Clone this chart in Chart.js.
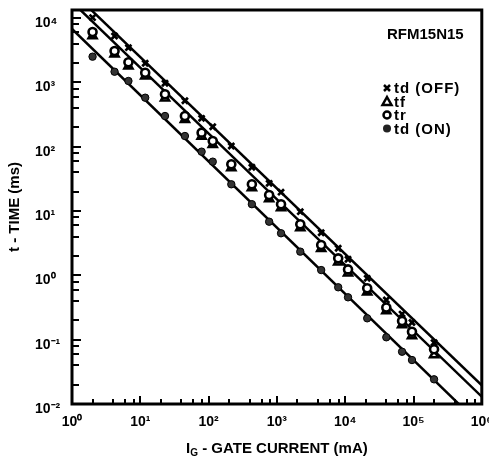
<!DOCTYPE html>
<html><head><meta charset="utf-8">
<script src="https://cdn.jsdelivr.net/npm/chart.js@4.4.1/dist/chart.umd.min.js"></script>
<style>html,body{margin:0;padding:0;background:#fff}</style>
</head><body>
<canvas id="c" width="489" height="457"></canvas>
<script>
// ---- data (x: gate current mA, y: time ms) ----
const gateCurrent = [2, 4.2, 6.7, 11.8, 23, 45, 79, 115, 215, 430, 770, 1150, 2200, 4450, 7900, 11000, 21000, 40000, 68000, 95000, 200000];
const tdOff = [10200, 5290, 3480, 1990, 972, 519, 277, 205, 103, 48, 27, 19.7, 9.8, 4.61, 2.64, 1.78, 0.90, 0.414, 0.25, 0.185, 0.090];
const tf    = [5300, 2750, 1800, 1250, 570, 265, 145, 108, 47, 23, 15.5, 11.2, 5.5, 2.6, 1.6, 1.08, 0.55, 0.28, 0.17, 0.115, 0.058];
const tr    = [6100, 3090, 2060, 1420, 655, 301, 166, 123, 53.4, 26.1, 17.8, 12.8, 6.23, 2.97, 1.84, 1.24, 0.63, 0.317, 0.195, 0.133, 0.071];
const tdOn  = [2520, 1470, 1055, 580, 301, 147, 84, 58.7, 26.1, 12.8, 6.84, 4.52, 2.34, 1.21, 0.653, 0.456, 0.215, 0.109, 0.065, 0.0483, 0.0242];
// fitted straight lines (end points)
const fitX = [1, 1000000];
const tdOffFit = [26000, 0.0195];
const trFit = [17900, 0.013];
const tdOnFit = [6800, 0.0045];
// axes
const xTickValues = [1,2,4,6,8,10,20,40,60,80,100,200,400,600,800,1e3,2e3,4e3,6e3,8e3,1e4,2e4,4e4,6e4,8e4,1e5,2e5,4e5,6e5,8e5,1e6];
const yTickValues = [0.01,0.02,0.04,0.06,0.08,0.1,0.2,0.4,0.6,0.8,1,2,4,6,8,10,20,40,60,80,100,200,400,600,800,1e3,2e3,4e3,6e3,8e3,1e4];
const xMin = 1, xMax = 1e6, yMin = 0.01, yMax = 13400;
const chartTitle = 'RFM15N15';
const seriesNames = ['td (OFF)', 'tf', 'tr', 'td (ON)'];
const yTitle = 't - TIME (ms)';
const xTitleMain = 'I', xTitleSub = 'G', xTitleRest = ' - GATE CURRENT (mA)';

const FONT = "'Liberation Sans', Arial, Helvetica, sans-serif";
Chart.defaults.font.family = FONT;
Chart.defaults.color = '#000';

const sup = {'-':'\u207B','0':'\u2070','1':'\u00B9','2':'\u00B2','3':'\u00B3','4':'\u2074','5':'\u2075','6':'\u2076','7':'\u2077','8':'\u2078','9':'\u2079'};
function powLabel(v){
  const e = Math.log10(v);
  if (Math.abs(e - Math.round(e)) > 1e-9) return '';
  return '10' + String(Math.round(e)).split('').map(c => sup[c]).join('');
}
function isMajor(v){ const e = Math.log10(v); return Math.abs(e - Math.round(e)) < 1e-9; }

const pts = arr => gateCurrent.map((x, i) => ({x, y: arr[i]}));
const line = arr => fitX.map((x, i) => ({x, y: arr[i]}));

const decor = {
  id: 'decor',
  beforeDraw(chart){
    const c = chart.ctx; c.save(); c.fillStyle = '#fff'; c.fillRect(0,0,chart.width,chart.height); c.restore();
  },
  afterDraw(chart){
    const c = chart.ctx, a = chart.chartArea, xs = chart.scales.x, ys = chart.scales.y;
    c.save();
    c.strokeStyle = '#000'; c.fillStyle = '#000';
    // ticks (inward)
    c.lineWidth = 2;
    xs.ticks.forEach(t => {
      const px = Math.round(xs.getPixelForValue(t.value));
      const L = isMajor(t.value) ? 8 : 5;
      c.beginPath(); c.moveTo(px, a.bottom); c.lineTo(px, a.bottom - L); c.stroke();
    });
    ys.ticks.forEach(t => {
      const py = Math.round(ys.getPixelForValue(t.value));
      const L = isMajor(t.value) ? 9 : 7;
      c.beginPath(); c.moveTo(a.left, py); c.lineTo(a.left + L, py); c.stroke();
    });
    // frame
    c.lineWidth = 3;
    c.strokeRect(a.left, a.top, a.right - a.left, a.bottom - a.top);
    // x title with subscript
    c.textBaseline = 'alphabetic';
    c.font = 'bold 15px ' + FONT;
    const w1 = c.measureText(xTitleMain).width;
    const w3 = c.measureText(xTitleRest).width;
    c.font = 'bold 10px ' + FONT;
    const w2 = c.measureText(xTitleSub).width;
    const total = w1 + w2 + w3;
    let x0 = (a.left + a.right) / 2 - total / 2;
    const base = 453;
    c.font = 'bold 15px ' + FONT; c.fillText(xTitleMain, x0, base);
    c.font = 'bold 10px ' + FONT; c.fillText(xTitleSub, x0 + w1, base + 3);
    c.font = 'bold 15px ' + FONT; c.fillText(xTitleRest, x0 + w1 + w2, base);
    // chart label
    c.font = 'bold 15px ' + FONT;
    c.fillText(chartTitle, 387, 38.5);
    // legend
    const lx = 387, rows = [88, 101.5, 115, 128.5];
    c.font = 'bold 15px ' + FONT;
    try { c.letterSpacing = '1px'; } catch (e) {}
    seriesNames.forEach((n, i) => c.fillText(n, 394, rows[i] + 5.3));
    try { c.letterSpacing = '0px'; } catch (e) {}
    // markers
    c.lineWidth = 2.5;
    let y = rows[0], r = 3;
    c.beginPath(); c.moveTo(lx - r, y - r); c.lineTo(lx + r, y + r); c.moveTo(lx + r, y - r); c.lineTo(lx - r, y + r); c.stroke();
    y = rows[1];
    c.beginPath(); c.moveTo(lx, y - 4.5); c.lineTo(lx + 4.5, y + 3.5); c.lineTo(lx - 4.5, y + 3.5); c.closePath(); c.stroke();
    y = rows[2];
    c.beginPath(); c.arc(lx, y, 3.5, 0, Math.PI * 2); c.stroke();
    y = rows[3];
    c.fillStyle = '#222';
    c.beginPath(); c.arc(lx, y, 4, 0, Math.PI * 2); c.fill();
    c.restore();
  }
};

new Chart(document.getElementById('c'), {
  type: 'scatter',
  data: {
    datasets: [
      {label: seriesNames[0], data: pts(tdOff), pointStyle: 'crossRot', pointRadius: 4.2, borderColor: '#000', backgroundColor: '#000', pointBorderWidth: 2.7, order: 1},
      {label: seriesNames[1], data: pts(tf), pointStyle: 'triangle', pointRadius: 4.6, borderColor: '#000', backgroundColor: '#fff', pointBorderWidth: 2.6, order: 3},
      {label: seriesNames[2], data: pts(tr), pointStyle: 'circle', pointRadius: 4, borderColor: '#000', backgroundColor: '#fff', pointBorderWidth: 2.6, order: 2},
      {label: seriesNames[3], data: pts(tdOn), pointStyle: 'circle', pointRadius: 3.7, borderColor: '#000', backgroundColor: '#333', pointBorderWidth: 1, order: 1},
      {label: 'td (OFF) fit', data: line(tdOffFit), showLine: true, pointRadius: 0, borderColor: '#000', borderWidth: 2.5, order: 10},
      {label: 'tr/tf fit', data: line(trFit), showLine: true, pointRadius: 0, borderColor: '#000', borderWidth: 2.5, order: 10},
      {label: 'td (ON) fit', data: line(tdOnFit), showLine: true, pointRadius: 0, borderColor: '#000', borderWidth: 2.5, order: 10}
    ]
  },
  options: {
    responsive: false,
    animation: false,
    events: [],
    layout: {padding: {left: 35, right: 4, top: 10, bottom: 0}},
    plugins: {legend: {display: false}, tooltip: {enabled: false}},
    scales: {
      x: {
        type: 'logarithmic', min: xMin, max: xMax,
        afterBuildTicks: s => { s.ticks = xTickValues.map(v => ({value: v})); },
        afterFit: s => { s.height = 53; s.paddingLeft = 0; s.paddingRight = 0; },
        grid: {display: false, drawTicks: false},
        border: {display: false},
        ticks: {autoSkip: false, maxRotation: 0, padding: 10, font: {size: 14, weight: 'bold'}, color: '#000', callback: v => powLabel(v)}
      },
      y: {
        type: 'logarithmic', min: yMin, max: yMax,
        afterBuildTicks: s => { s.ticks = yTickValues.map(v => ({value: v})); },
        afterFit: s => { s.width = 37; s.paddingTop = 0; s.paddingBottom = 0; },
        grid: {display: false, drawTicks: false},
        border: {display: false},
        title: {display: true, text: yTitle, font: {size: 15, weight: 'bold'}, color: '#000', padding: {top: -29, bottom: 0}},
        ticks: {autoSkip: false, crossAlign: 'far', labelOffset: 5, padding: 10, font: {size: 14, weight: 'bold'}, color: '#000', callback: v => powLabel(v)}
      }
    }
  },
  plugins: [decor]
});
</script>
</body></html>
